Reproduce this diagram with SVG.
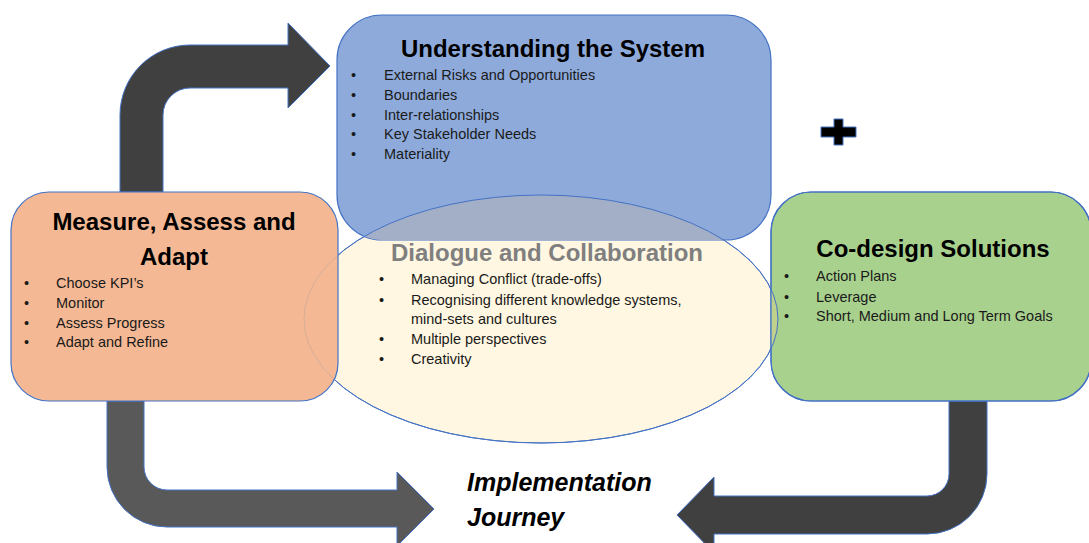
<svg xmlns="http://www.w3.org/2000/svg" width="1089" height="543" viewBox="0 0 1089 543">
<style>
.t{font-family:"Liberation Sans",Arial,sans-serif;font-weight:bold;font-size:24px;fill:#000;text-anchor:middle}
.b{font-family:"Liberation Sans",Arial,sans-serif;font-size:14.5px;fill:#1a1a1a}
.arr{stroke:#4472c4;stroke-width:1}
.box{stroke:#4472c4;stroke-width:1.2}
.imp{font-family:"Liberation Sans",Arial,sans-serif;font-weight:bold;font-style:italic;font-size:25px;fill:#000}
</style>
<defs>
<clipPath id="cBlue"><rect x="337" y="15" width="434" height="225" rx="45"/></clipPath>
<clipPath id="cGreen"><rect x="771" y="192" width="320" height="209" rx="40"/></clipPath>
<clipPath id="cOrange"><rect x="11" y="192" width="327" height="209" rx="38"/></clipPath>
</defs>
<rect width="1089" height="543" fill="#fff"/>
<g id="connectors">
<path class="arr" fill="#404040" d="M120,192 L120,115 A70,70 0 0 1 190,45 L288,45 L288,23 L330,66 L288,108 L288,88 L190,88 A27,27 0 0 0 163,115 L163,192 Z"/>
<path class="arr" fill="#595959" d="M107,401 L107,467 A60,60 0 0 0 167,527 L397,527 L397,546 L434,509 L397,472 L397,490 L167,490 A23,23 0 0 1 144,467 L144,401 Z"/>
<path class="arr" fill="#404040" d="M949,401 L987,401 L987,474 A60,60 0 0 1 927,534 L714,534 L714,553 L677,515 L714,477 L714,496 L927,496 A22,22 0 0 0 949,474 Z"/>
</g>
<g id="dialogue-bg">
<ellipse cx="541" cy="319" rx="237" ry="124" fill="#fff7e1" stroke="#4472c4" stroke-width="1"/>
</g>
<g id="understanding">
<rect class="box" x="337" y="15" width="434" height="225" rx="45" fill="#8eaadb"/>
</g>
<g id="codesign">
<rect class="box" x="771" y="192" width="320" height="209" rx="40" fill="#a9d18e"/>
</g>
<g id="overlaps">
<ellipse cx="541" cy="319" rx="237" ry="124" fill="#a3afc6" clip-path="url(#cBlue)"/>
<ellipse cx="541" cy="319" rx="237" ry="124" fill="#bfd18d" clip-path="url(#cGreen)"/>
<rect x="771" y="192" width="320" height="209" rx="40" fill="none" stroke="#4472c4" stroke-width="1.2"/>
<ellipse cx="541" cy="319" rx="237" ry="124" fill="none" stroke="#4472c4" stroke-width="1"/>
</g>
<g id="measure">
<rect class="box" x="11" y="192" width="327" height="209" rx="38" fill="#f4b994"/>
<ellipse cx="541" cy="319" rx="237" ry="124" fill="none" stroke="#b0a0a0" stroke-opacity="0.45" stroke-width="1" clip-path="url(#cOrange)"/>
<text class="t" x="174" y="230">Measure, Assess and</text>
<text class="t" x="174" y="265">Adapt</text>
<text class="b" x="24" y="288">•</text><text class="b" x="56" y="288">Choose KPI’s</text>
<text class="b" x="24" y="308">•</text><text class="b" x="56" y="308">Monitor</text>
<text class="b" x="24" y="328">•</text><text class="b" x="56" y="328">Assess Progress</text>
<text class="b" x="24" y="347">•</text><text class="b" x="56" y="347">Adapt and Refine</text>
</g>
<g id="understanding-text">
<text class="t" x="553" y="57">Understanding the System</text>
<text class="b" x="351" y="80">•</text><text class="b" x="384" y="80">External Risks and Opportunities</text>
<text class="b" x="351" y="100">•</text><text class="b" x="384" y="100">Boundaries</text>
<text class="b" x="351" y="120">•</text><text class="b" x="384" y="120">Inter-relationships</text>
<text class="b" x="351" y="139">•</text><text class="b" x="384" y="139">Key Stakeholder Needs</text>
<text class="b" x="351" y="159">•</text><text class="b" x="384" y="159">Materiality</text>
</g>
<g id="dialogue">
<text class="t" x="547" y="261" style="fill:#7f7f7f">Dialogue and Collaboration</text>
<text class="b" x="379" y="284">•</text><text class="b" x="411" y="284">Managing Conflict (trade-offs)</text>
<text class="b" x="379" y="305">•</text><text class="b" x="411" y="305">Recognising different knowledge systems,</text>
<text class="b" x="411" y="324">mind-sets and cultures</text>
<text class="b" x="379" y="344">•</text><text class="b" x="411" y="344">Multiple perspectives</text>
<text class="b" x="379" y="364">•</text><text class="b" x="411" y="364">Creativity</text>
</g>
<g id="codesign-text">
<text class="t" x="933" y="257">Co-design Solutions</text>
<text class="b" x="784" y="281">•</text><text class="b" x="816" y="281">Action Plans</text>
<text class="b" x="784" y="302">•</text><text class="b" x="816" y="302">Leverage</text>
<text class="b" x="784" y="321">•</text><text class="b" x="816" y="321">Short, Medium and Long Term Goals</text>
</g>
<g id="plus">
<path d="M834,119 H843 V127 H856 V137 H843 V145 H834 V137 H821 V127 H834 Z" fill="#000" stroke="#4472c4" stroke-width="1"/>
</g>
<g id="implementation">
<text class="imp" x="467" y="491">Implementation</text>
<text class="imp" x="467" y="526">Journey</text>
</g>
</svg>
